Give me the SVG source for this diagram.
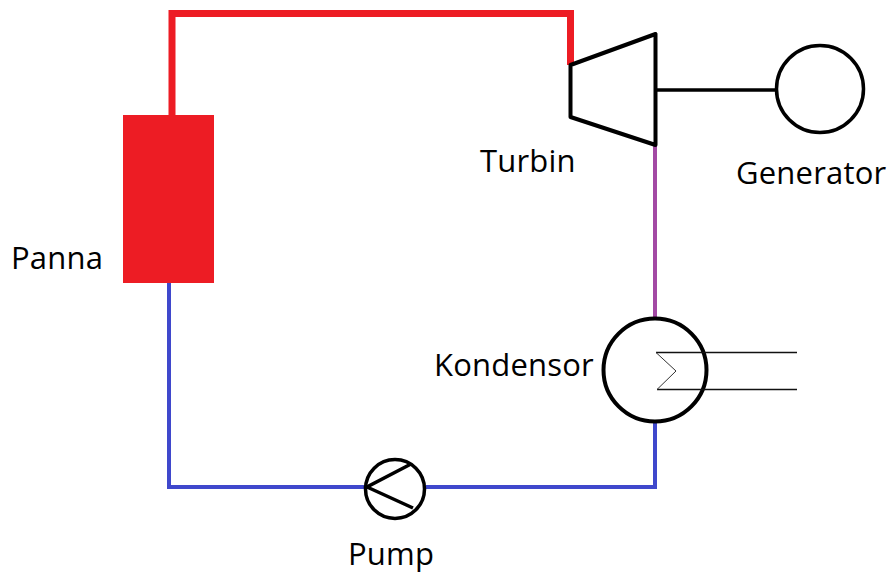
<svg xmlns="http://www.w3.org/2000/svg" width="891" height="574" viewBox="0 0 891 574">
<style>
text{font-family:"Open Sans","Noto Sans",sans-serif;font-size:31px;letter-spacing:.2px;fill:#000}
.o{fill:#fff;stroke:#000}
.c{fill:none;stroke-width:4}
</style>
<rect width="891" height="574" fill="#fff"/>
<g id="connectors">
<path d="M172 115V13.500H570.500V65" fill="none" stroke="#ed1c24" stroke-width="7"/>
<path class="c" d="M655 146V318" stroke="#a349a4"/>
<path class="c" d="M169 283V487H365M426 487H655V423" stroke="#3f48cc"/>
<path class="c" d="M656 90H776" stroke="#000" style="stroke-width:3.500"/>
</g>
<g id="panna"><rect x="123" y="115" width="91" height="168" fill="#ed1c24"/><text x="11" y="269">Panna</text></g>
<g id="turbin"><path class="o" stroke-width="4" d="M570.500 65L655.500 34V145L570.500 117Z" stroke-linejoin="round"/><text x="480" y="172">Turbin</text></g>
<g id="generator"><circle class="o" stroke-width="3.500" cx="820" cy="89" r="43.500"/><text x="736" y="184">Generator</text></g>
<g id="kondensor"><circle class="o" stroke-width="4" cx="655" cy="370" r="51.500"/>
<path d="M656 352.500H797M657 389.500H797" fill="none" stroke="#111" stroke-width="1.500"/><path d="M656 352.500L676 371L657 389.500" fill="none" stroke="#333" stroke-width="1"/><text x="434" y="376">Kondensor</text></g>
<g id="pump"><circle class="o" stroke-width="3.500" cx="395" cy="489" r="29.500"/><path d="M411 464L367 487L413 508" fill="none" stroke="#000" stroke-width="3.500"/><text x="348" y="565">Pump</text></g>
</svg>
